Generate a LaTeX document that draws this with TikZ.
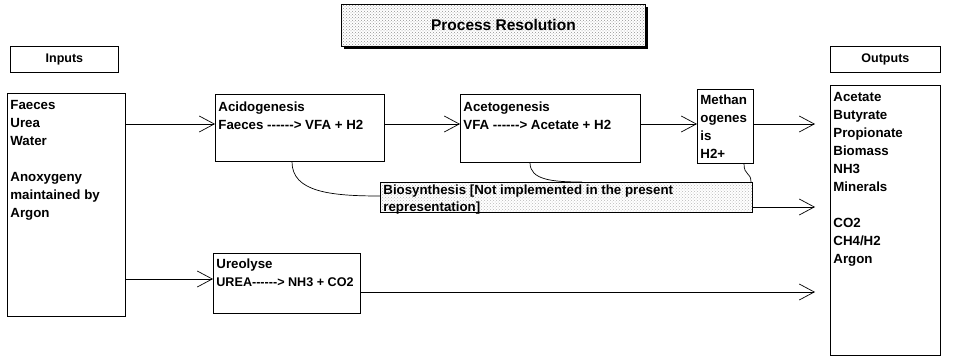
\documentclass[tikz,border=0pt]{standalone}
\usepackage{fontspec}
\setmainfont{Liberation Sans}[Ligatures=TeXOff]
\usetikzlibrary{arrows.meta,patterns}
\newcommand\bt[4][7pt]{\parbox[c][#3pt][t]{#2pt}{\raggedright\vspace*{#1}#4}}
\begin{document}
\begin{tikzpicture}[x=1pt,y=-1pt,
  every node/.style={font=\fontsize{13.3}{18}\selectfont\bfseries},
  box/.style={draw, line width=0.8pt, anchor=north west, inner xsep=3pt, inner ysep=0pt},
  lab/.style={draw, line width=0.8pt, anchor=north west, inner sep=0pt, font=\fontsize{12.5}{14}\selectfont\bfseries},
  flow/.style={line width=0.7pt, -{Straight Barb[length=15pt,width=16pt,line width=0.7pt]}},
  link/.style={line width=0.7pt},
]
\useasboundingbox (0,0) rectangle (956,358);

% title
\node[draw, line width=0.8pt, anchor=north west, inner sep=0pt,
      preaction={fill=white}, pattern=crosshatch dots, pattern color=gray!85,
      minimum width=304pt, minimum height=42pt,
      font=\fontsize{15.5}{17}\selectfont\bfseries] (title) at (341,4) {\hspace*{20pt}\raisebox{-2pt}{Process Resolution}};
\draw[line width=2.4pt] ([xshift=3pt,yshift=-1.2pt]title.south west) -- ([xshift=1.2pt,yshift=-1.2pt]title.south east) -- ([xshift=1.2pt,yshift=-3pt]title.north east);

% labels
\node[lab, minimum width=108pt, minimum height=26pt] (inlab) at (10,46) {Inputs};
\node[lab, minimum width=110pt, minimum height=26pt] (outlab) at (830,46) {Outputs};

% boxes
\node[box] (inp) at (7,93) {\bt{112}{223}{Faeces\\Urea\\Water\\[18pt]Anoxygeny\\maintained by\\Argon}};
\node[box] (acid) at (215,94) {\bt{163}{67}{Acidogenesis\\Faeces ------> VFA + H2}};
\node[box] (acet) at (460,94) {\bt{174}{68}{Acetogenesis\\VFA ------> Acetate + H2}};
\node[box] (meth) at (697,89) {\bt[5pt]{50}{74}{Methan\\ogenes\\is\\H2+}};
\node[box, preaction={fill=white}, pattern=crosshatch dots, pattern color=gray!55] (bio) at (380,182)
  {\bt[2.5pt]{366}{30}{\baselineskip=17pt Biosynthesis [Not implemented in the present\\representation]}};
\node[box] (ure) at (213,253) {\bt[5pt]{141}{60}{Ureolyse\\\mbox{\fontsize{12.6}{18}\selectfont UREA------> NH3 + CO2}}};
\node[box] (out) at (830,85) {\bt{104}{270}{Acetate\\Butyrate\\Propionate\\Biomass\\NH3\\Minerals\\[18pt]CO2\\CH4/H2\\Argon}};

% helper coordinates
\coordinate (r1) at (0,124);
\coordinate (r2) at (0,207);
\coordinate (r3) at (0,279);
\coordinate (r4) at (0,292);
\coordinate (rb) at (0,196);
\coordinate (o1) at (815,124);
\coordinate (o2) at (815,207);
\coordinate (o3) at (815,292);
\coordinate (c1) at (292,0);
\coordinate (c2) at (530,0);
\coordinate (c3) at (744,0);
\coordinate (t2) at (582,0);
\coordinate (t3) at (751,0);

% flows
\draw[flow] (inp.east |- r1) -- (acid.west |- r1);
\draw[flow] (acid.east |- r1) -- (acet.west |- r1);
\draw[flow] (acet.east |- r1) -- (meth.west |- r1);
\draw[flow] (meth.east |- r1) -- (o1);
\draw[flow] (bio.east |- r2) -- (o2);
\draw[flow] (inp.east |- r3) -- (ure.west |- r3);
\draw[flow] (ure.east |- r4) -- (o3);

% links to biosynthesis
\draw[link] (acid.south -| c1) .. controls +(0,30) and +(-50,0) .. (bio.west |- rb);
\draw[link] (acet.south -| c2) .. controls +(0,17) and +(-30,0) .. (bio.north -| t2);
\draw[link] (meth.south -| c3) .. controls +(0,12) and +(0,-10) .. (bio.north -| t3);
\end{tikzpicture}
\end{document}
